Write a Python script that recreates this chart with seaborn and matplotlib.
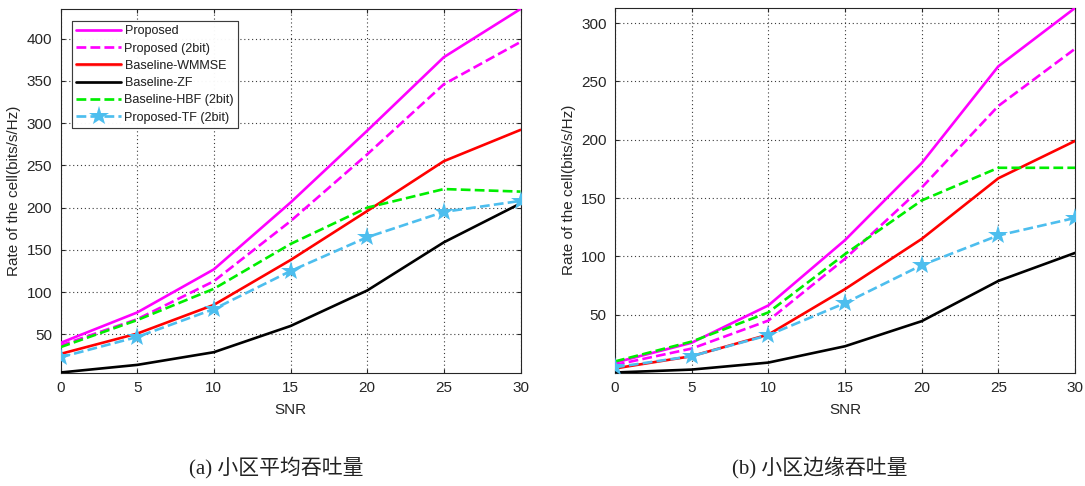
import matplotlib
matplotlib.use("Agg")
import matplotlib.pyplot as plt
import seaborn as sns
import pandas as pd
import numpy as np

snr = [0, 5, 10, 15, 20, 25, 30]

# (a) average cell throughput
a_proposed = [40, 76, 127, 206, 291, 378, 435]
a_proposed_2bit = [37, 68, 113, 184, 263, 346, 396]
a_wmmse = [27, 51, 85, 138, 196, 255, 292]
a_zf = [5, 14, 29, 60, 102, 159, 205]
a_hbf = [35, 67, 104, 157, 200, 222, 219]
a_tf = [23, 47, 80, 125, 165, 195, 208]

# (b) cell-edge throughput
b_proposed = [9, 26, 58, 114, 180, 263, 313]
b_proposed_2bit = [7, 21, 45, 98, 159, 229, 278]
b_wmmse = [4, 14.5, 33, 72, 115, 167, 199]
b_zf = [0.5, 3, 9, 23, 44.5, 79, 103]
b_hbf = [10, 27, 52, 102, 148, 176, 176]
b_tf = [5, 14.5, 32.5, 60, 92.5, 118, 133]

labels = ["Proposed", "Proposed (2bit)", "Baseline-WMMSE", "Baseline-ZF",
          "Baseline-HBF (2bit)", "Proposed-TF (2bit)"]
captions = ["(a) 小区平均吞吐量", "(b) 小区边缘吞吐量"]

colors = ["#FF00FF", "#FF00FF", "#FF0000", "#000000", "#00EE00", "#4DBEEE"]
styles = ["-", "--", "-", "-", "--", "--"]
markers = [None, None, None, None, None, "*"]

sns.set_theme(style="white")
plt.rcParams['font.family'] = ['Liberation Sans', 'DejaVu Sans']

fig = plt.figure(figsize=(10.85, 4.86), dpi=100)
W, H = 1085, 486
boxes = [(60.5, 9, 520.5, 372.5), (615, 8, 1075, 372.5)]
panels = [
    [a_proposed, a_proposed_2bit, a_wmmse, a_zf, a_hbf, a_tf],
    [b_proposed, b_proposed_2bit, b_wmmse, b_zf, b_hbf, b_tf],
]
ylims = [(5, 435), (0.5, 313)]
yticks = [[50, 100, 150, 200, 250, 300, 350, 400], [50, 100, 150, 200, 250, 300]]
cap_x = [276, 820]

for i, (box, series) in enumerate(zip(boxes, panels)):
    x0, y0, x1, y1 = box
    ax = fig.add_axes([x0 / W, 1 - y1 / H, (x1 - x0) / W, (y1 - y0) / H])
    for s, lab, c, ls, mk in zip(series, labels, colors, styles, markers):
        df = pd.DataFrame({"SNR": snr, "rate": s})
        sns.lineplot(data=df, x="SNR", y="rate", ax=ax, color=c, linestyle=ls,
                     linewidth=1.9, marker=mk, markersize=15 if mk else 0,
                     markeredgewidth=0, label=lab, zorder=3)
    ax.set_xlim(0, 30)
    ax.set_ylim(*ylims[i])
    ax.set_xticks(snr)
    ax.set_yticks(yticks[i])
    ax.grid(True, linestyle=(0, (1, 2.5)), color="#262626", linewidth=0.8, alpha=0.9)
    for sp in ax.spines.values():
        sp.set_visible(True)
        sp.set_color("#262626")
        sp.set_linewidth(0.8)
    ax.tick_params(axis="both", labelsize=11, colors="#262626", direction="in",
                   length=3, width=0.8, top=True, right=True, bottom=True, left=True,
                   pad=6)
    ax.set_xlabel("SNR", fontsize=11, color="#262626", labelpad=6)
    ax.set_ylabel("Rate of the cell(bits/s/Hz)", fontsize=11, color="#262626", labelpad=4)
    leg = ax.legend(loc="upper left", bbox_to_anchor=((72 - x0) / (x1 - x0), 1 - (21 - y0) / (y1 - y0)),
                    fontsize=9, frameon=True, fancybox=False, handlelength=3.6,
                    handletextpad=0.25, labelspacing=0.42, borderpad=0.35,
                    borderaxespad=0)
    leg.get_frame().set_edgecolor("#262626")
    leg.get_frame().set_linewidth(0.8)
    fig.text(cap_x[i] / W, 1 - 468 / H, captions[i], ha="center", va="center",
             fontsize=15, color="#222222",
             family=["Liberation Serif", "Noto Sans CJK SC"], fontweight="light")

fig.savefig("out.png", dpi=100)
